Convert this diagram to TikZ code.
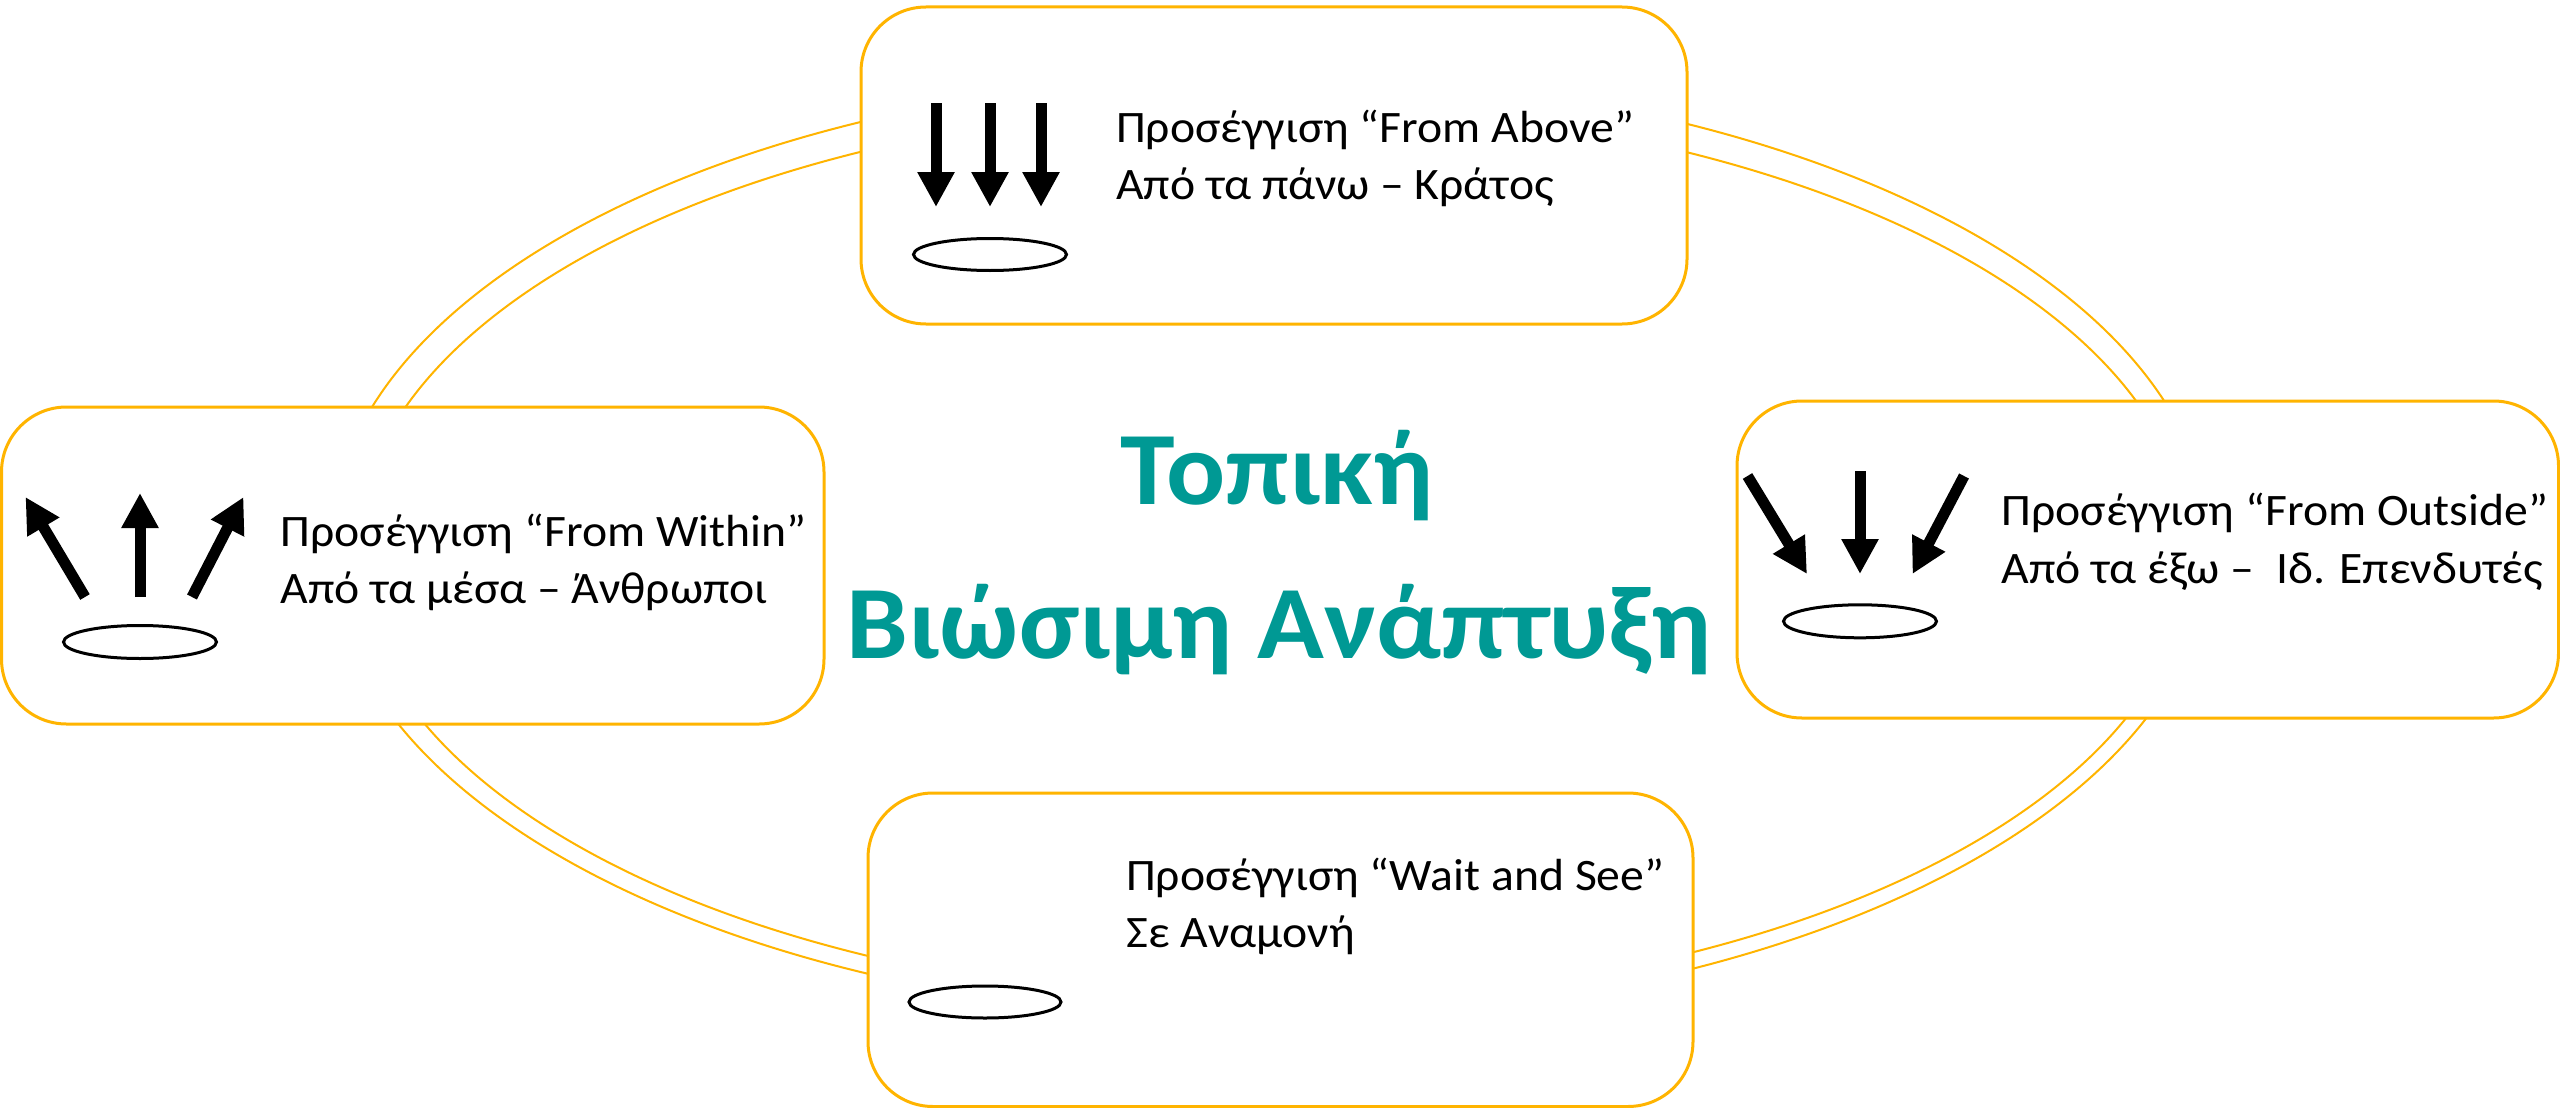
\documentclass[tikz,border=0pt]{standalone}
\usepackage{fontspec}
\setmainfont{Carlito}
\newfontfamily\widefont{Carlito}[FakeStretch=1.06]
\usetikzlibrary{arrows.meta}
\definecolor{gold}{RGB}{255,180,0}
\definecolor{tealc}{RGB}{0,153,148}
\begin{document}
\begin{tikzpicture}[x=1pt,y=-1pt,
  box/.style={draw=gold, line width=3pt, fill=white, rounded corners=65pt,
    minimum width=825pt, minimum height=317pt, inner sep=0pt},
  ringline/.style={draw=gold, line width=2pt},
  lbl/.style={anchor=base west, inner sep=0pt, font=\widefont\fontsize{45}{57}\selectfont},
  titletext/.style={anchor=base, inner sep=0pt, text=tealc,
    font=\widefont\fontsize{104}{154}\selectfont\bfseries},
  blockarrow/.style={line width=11pt, -{Triangle[length=35pt,width=35pt]}},
  baseell/.style={line width=3pt}
]
\useasboundingbox (0,0) rectangle (2560,1108);
\fill[white] (0,0) rectangle (2560,1108);

% double ring
\draw[ringline] (1270,547) ellipse [x radius=940, y radius=472];
\draw[ringline] (1273,553) ellipse [x radius=917, y radius=449];

% boxes
\node[box, minimum width=826pt] (top) at (1274,165.5) {};
\node[box, minimum width=822.5pt] (left) at (412.75,565.5) {};
\node[box, minimum width=821.5pt] (right) at (2147.75,559.5) {};
\node[box, minimum height=313.5pt] (bottom) at (1280.5,949.75) {};

% arrows
\foreach \n/\ax/\ay/\bx/\by in {
  ta/936/103/936/207, tb/990/103/990/207, tc/1041/103/1041/207,
  la/85/597/25.5/497, lb/140/597/140/493, lc/192/597/243.5/497,
  ra/1747.5/476/1807/574, rb/1860/471/1860/574, rc/1964/476/1912.5/574}{
  \coordinate (\n s) at (\ax,\ay);
  \coordinate (\n e) at (\bx,\by);
  \draw[blockarrow] (\n s) -- (\n e);
}

% base ellipses
\draw[baseell] (990,254.5) ellipse [x radius=76.5, y radius=16];
\draw[baseell] (140,642) ellipse [x radius=76.5, y radius=16.5];
\draw[baseell] (1860,621.3) ellipse [x radius=76.5, y radius=16.5];
\draw[baseell] (985,1002) ellipse [x radius=76, y radius=16];

% texts
\node[lbl] (t1) at (1116,142) {Προσέγγιση “From Above”};
\node[lbl] (t2) at (1116,199) {Από τα πάνω – Κράτος};
\node[lbl] (l1) at (280.5,546) {Προσέγγιση “From Within”};
\node[lbl] (l2) at (280.5,603) {Από τα μέσα – Άνθρωποι};
\node[lbl] (r1) at (2001.5,525) {Προσέγγιση “From Outside”};
\node[lbl] (r2) at (2001.5,583) {Από τα έξω –\ \ Ιδ. Επενδυτές};
\node[lbl] (b1) at (1126,890) {Προσέγγιση “Wait and See”};
\node[lbl] (b2) at (1126,947) {Σε Αναμονή};

\node[titletext] (c1) at (1277,504) {Τοπική};
\node[titletext] (c2) at (1279,658) {Βιώσιμη Ανάπτυξη};
\end{tikzpicture}
\end{document}
